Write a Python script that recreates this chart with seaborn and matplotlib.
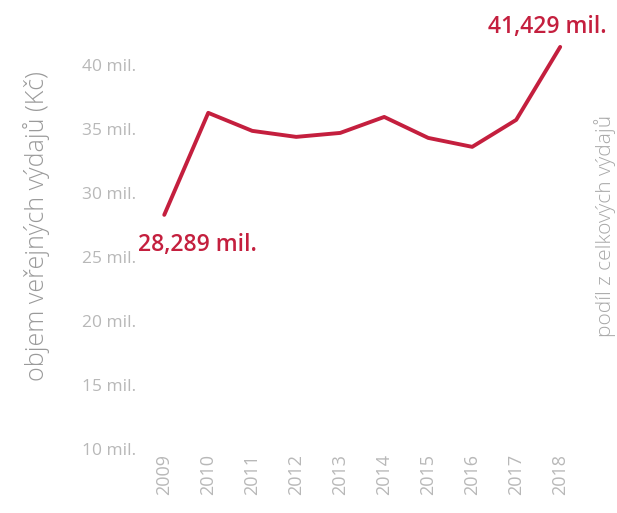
import matplotlib
matplotlib.use("Agg")
import matplotlib.pyplot as plt
import seaborn as sns
import pandas as pd

# Data (mil. Kč)
years = [2009, 2010, 2011, 2012, 2013, 2014, 2015, 2016, 2017, 2018]
spending = [28.289, 36.27, 34.86, 34.39, 34.70, 35.95, 34.31, 33.61, 35.72, 41.429]
y_ticks = [10, 15, 20, 25, 30, 35, 40]
y_tick_labels = [f"{t} mil." for t in y_ticks]
first_label = "28,289 mil."
last_label = "41,429 mil."

sns.set_theme(style="white")
plt.rcParams['font.family'] = ['Open Sans', 'DejaVu Sans']

line_color = "#c41f3e"
tick_color = "#b8b8b8"
label_color = "#9a9a9a"

df = pd.DataFrame({"year": years, "spending": spending})

fig = plt.figure(figsize=(6.17, 5.13), dpi=100)
ax = fig.add_axes([0.227, 0.123, 0.713, 0.809])

sns.lineplot(data=df, x="year", y="spending", color=line_color, linewidth=2.8, ax=ax)

ax.set_xlim(2008.45, 2018.45)
ax.set_ylim(9.9, 42.37)
ax.set_xticks(years)
ax.set_xticklabels([str(y) for y in years], rotation=90, fontsize=13, color=tick_color)
ax.set_yticks(y_ticks)
ax.set_yticklabels(y_tick_labels, fontsize=12.5, color=tick_color)
ax.tick_params(axis="x", length=0, pad=3)
ax.tick_params(axis="y", length=0, pad=3)
ax.set_xlabel("")
ax.set_ylabel("objem veřejných výdajů (Kč)", fontsize=18, color=label_color,
              fontweight="light")
ax.yaxis.set_label_coords(-0.205, 0.54)
sns.despine(ax=ax, left=True, bottom=True)

# value annotations at the ends of the line
ax.annotate(first_label, xy=(years[0], spending[0]), xytext=(-19, -22),
            textcoords="offset points", fontsize=16.5, color=line_color,
            fontweight="semibold", ha="left", va="center", annotation_clip=False)
ax.annotate(last_label, xy=(years[-1], spending[-1]), xytext=(-52, 14),
            textcoords="offset points", fontsize=16.5, color=line_color,
            fontweight="semibold", ha="left", va="center", annotation_clip=False)

# secondary axis label at the right edge
fig.text(0.998, 0.56, "podíl z celkových výdajů", rotation=90, fontsize=15,
         color="#a8a8a8", fontweight="light", ha="right", va="center")

fig.savefig("out.png", dpi=100)
